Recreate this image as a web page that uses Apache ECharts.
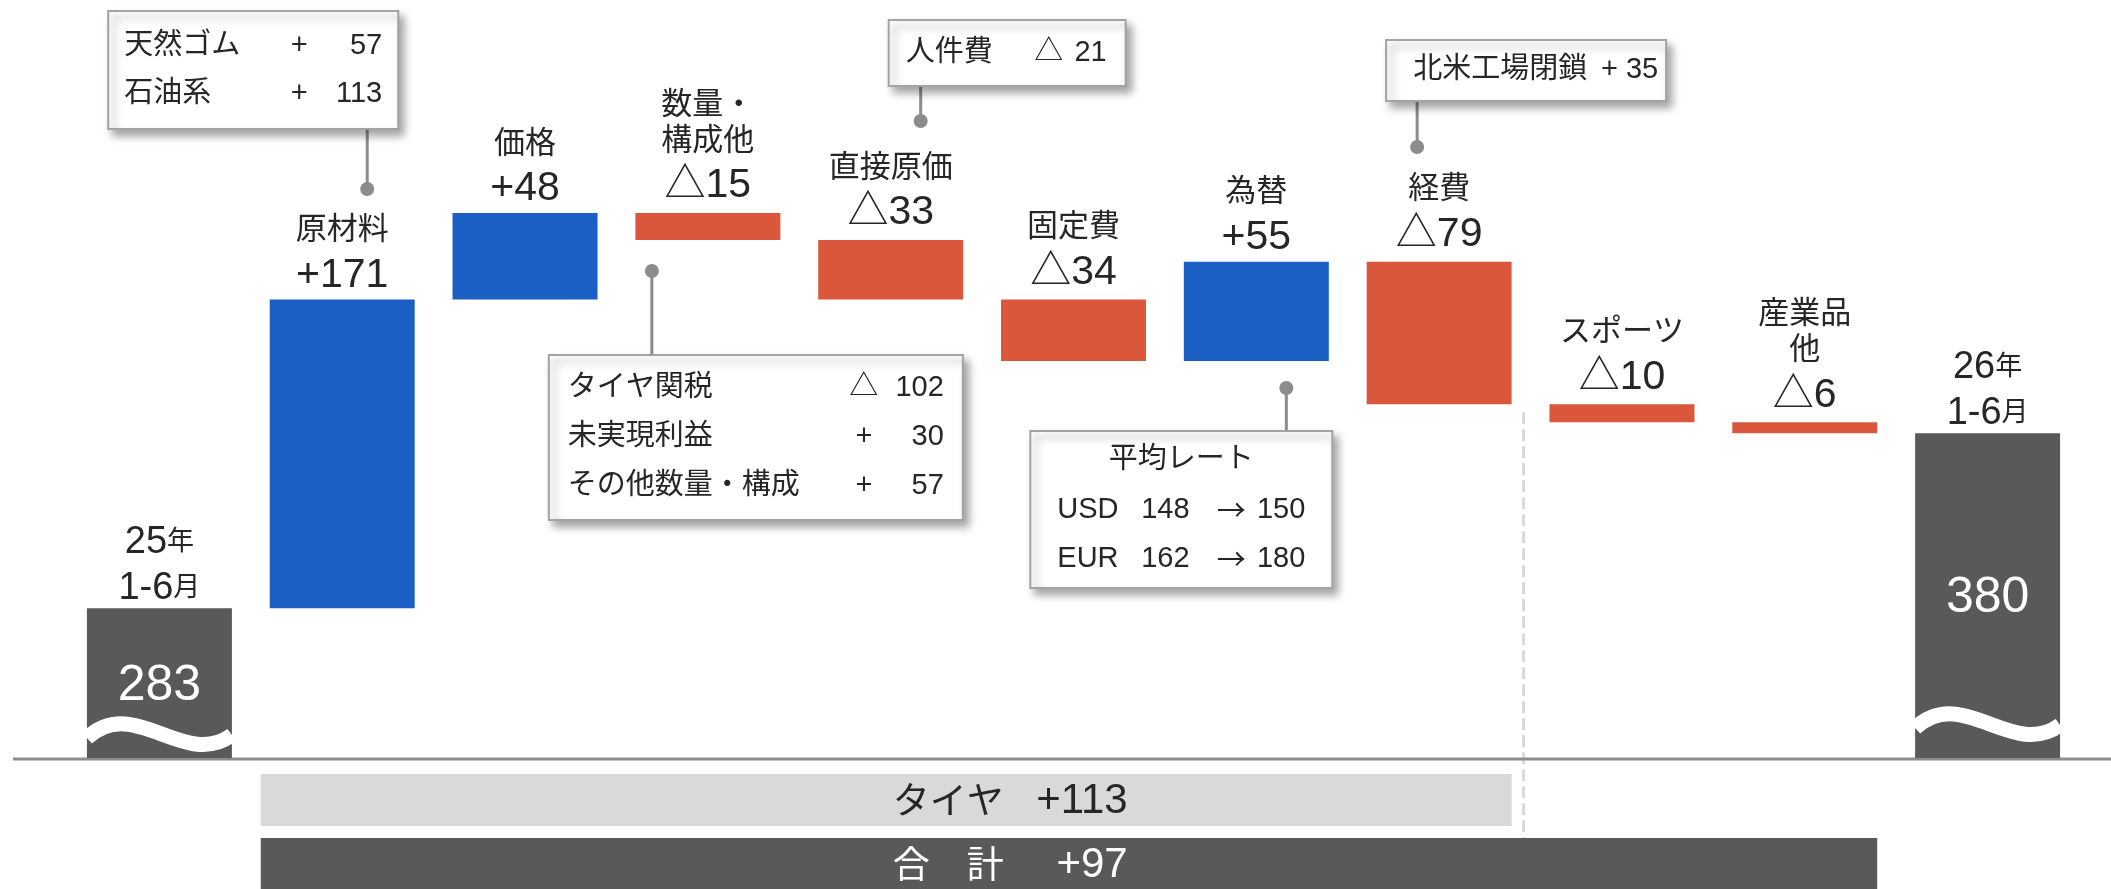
<!DOCTYPE html>
<html><head><meta charset="utf-8">
<script src="https://cdn.jsdelivr.net/npm/echarts@6/dist/echarts.min.js"></script>
<style>html,body{margin:0;padding:0;background:#fff}#c{width:2111px;height:889px}</style>
</head><body><div id="c"></div>
<script>
// ---------------- data ----------------
const categories = ['25年\n1-6月', '原材料', '価格', '数量・\n構成他', '直接原価', '固定費', '為替', '経費', 'スポーツ', '産業品\n他', '26年\n1-6月'];
const startValue = 283;
const deltas = [171, 48, -15, -33, -34, 55, -79, -10, -6];
const endValue = 380;
const axisMin = 200;
const axisMax = 620;
const tireLabel = 'タイヤ';
const totalLabel = '合　計';
const rawMaterialDetail = [['天然ゴム', '+', '57'], ['石油系', '+', '113']];
const volumeDetail = [['タイヤ関税', '△', '102'], ['未実現利益', '+', '30'], ['その他数量・構成', '+', '57']];
const directCostDetail = [['人件費', '△', '21']];
const fxTitle = '平均レート';
const fxDetail = [['USD', '148', '→', '150'], ['EUR', '162', '→', '180']];
const expenseDetail = [['北米工場閉鎖', '+ 35']];

// ---------------- derived ----------------
const FONT = "'Liberation Sans', Arial, 'Noto Sans CJK JP', sans-serif";
const CJK = "'Noto Sans CJK JP', sans-serif";
const TXT = '#262626';
const BLUE = '#1b5ec4';
const RED = '#da573b';
const DARK = '#595959';
const LIGHT = '#d9d9d9';
const GRAY = '#8c8c8c';
const BAR_RATIO = 0.793;

const barData = [];
const barKinds = [];
const barValues = [];
barData.push([0, axisMin, startValue]); barKinds.push('total'); barValues.push(startValue);
let run = startValue;
deltas.forEach((d, k) => {
  const next = run + d;
  barData.push([k + 1, Math.min(run, next), Math.max(run, next)]);
  barKinds.push(d >= 0 ? 'up' : 'down');
  barValues.push(d);
  run = next;
});
barData.push([categories.length - 1, axisMin, endValue]); barKinds.push('total'); barValues.push(endValue);

const tireSum = deltas.slice(0, 7).reduce((a, b) => a + b, 0);
const grandSum = endValue - startValue;
const fmt = d => d >= 0 ? '+' + d : '△' + (-d);

function nameRich(name) {
  return name.split('\n').map(s => '{n|' + s + '}').join('\n');
}
function totalRich(name) {
  return name.split('\n').map(line => {
    const parts = line.match(/[0-9\-]+|[^0-9\-]+/g) || [];
    return parts.map(p => /^[0-9\-]+$/.test(p) ? '{a|' + p + '}' : '{b|' + p + '}').join('');
  }).join('\n');
}

const labelRich = {
  n: { fontSize: 31, lineHeight: 36, fontFamily: FONT, fill: TXT },
  v: { fontSize: 41, lineHeight: 54, fontFamily: FONT, fill: TXT },
  a: { fontSize: 38, lineHeight: 46, fontFamily: FONT, fill: TXT },
  b: { fontSize: 27, lineHeight: 46, fontFamily: FONT, fill: TXT }
};

function renderBar(params, api) {
  const idx = params.dataIndex;
  const i = api.value(0), lo = api.value(1), hi = api.value(2);
  const pTop = api.coord([i, hi]);
  const pBot = api.coord([i, lo]);
  const bw = api.size([1, 0])[0] * BAR_RATIO;
  const cx = pTop[0];
  const kind = barKinds[idx];
  const color = kind === 'total' ? DARK : (kind === 'up' ? BLUE : RED);
  const children = [{
    type: 'rect',
    shape: { x: cx - bw / 2, y: pTop[1], width: bw, height: pBot[1] - pTop[1] },
    style: { fill: color }
  }];
  if (kind === 'total') {
    const lift = idx === 0 ? 0 : 10;
    const base = pBot[1];
    const left = cx - bw / 2, right = cx + bw / 2;
    children.push({
      type: 'bezierCurve',
      shape: {
        x1: left, y1: base - 20 - lift,
        cpx1: left + bw * 0.33, cpy1: base - 64 - lift,
        cpx2: left + bw * 0.67, cpy2: base + 12 - lift,
        x2: right, y2: base - 23 - lift
      },
      style: { stroke: '#fff', lineWidth: 15, fill: null, lineCap: 'butt' }
    });
    children.push({
      type: 'text',
      style: {
        x: cx, y: (pTop[1] + base) / 2 + 3, text: String(barValues[idx]),
        fontSize: 50, fontFamily: FONT, fill: '#fff', align: 'center', verticalAlign: 'middle'
      }
    });
    children.push({
      type: 'text',
      style: {
        x: cx, y: pTop[1] + 3, text: totalRich(categories[idx]), rich: labelRich,
        align: 'center', verticalAlign: 'bottom'
      }
    });
  } else {
    children.push({
      type: 'text',
      style: {
        x: cx, y: pTop[1] + (kind === 'up' ? 3 : 0),
        text: nameRich(categories[idx]) + '\n{v|' + fmt(barValues[idx]) + '}',
        rich: labelRich, align: 'center', verticalAlign: 'bottom'
      }
    });
  }
  return { type: 'group', children };
}

function renderDecor(params, api) {
  const base = api.coord([0, axisMin])[1];
  const sz = api.size([1, 0])[0];
  const bw = sz * BAR_RATIO;
  const cx = i => api.coord([i, axisMin])[0];
  const expBottom = api.coord([7, barData[7][1]])[1];
  const bandLeft = cx(1) - bw / 2 - 9;
  const textLeft = cx(4) + 2;
  const numRight = cx(4) + 237;
  const children = [];
  children.push({
    type: 'line',
    shape: { x1: cx(7) + sz * 0.462, y1: expBottom + 8, x2: cx(7) + sz * 0.462, y2: base + 80 },
    style: { stroke: LIGHT, lineWidth: 3, lineDash: [12, 5] }
  });
  children.push({
    type: 'line',
    shape: { x1: 13, y1: base + 1, x2: api.getWidth(), y2: base + 1 },
    style: { stroke: GRAY, lineWidth: 3 }
  });
  children.push({
    type: 'rect',
    shape: { x: bandLeft, y: base + 16, width: cx(7) + bw / 2 - bandLeft, height: 52 },
    style: { fill: LIGHT }
  });
  children.push({
    type: 'rect',
    shape: { x: bandLeft, y: base + 80, width: cx(9) + bw / 2 - bandLeft, height: 52 },
    style: { fill: DARK }
  });
  children.push({
    type: 'text',
    style: { x: textLeft, y: base + 42, text: tireLabel, fontSize: 37, fontFamily: CJK, fill: TXT, align: 'left', verticalAlign: 'middle' }
  });
  children.push({
    type: 'text',
    style: { x: numRight, y: base + 43, text: fmt(tireSum), fontSize: 42, fontFamily: FONT, fill: TXT, align: 'right', verticalAlign: 'middle' }
  });
  children.push({
    type: 'text',
    style: { x: textLeft, y: base + 106, text: totalLabel, fontSize: 37, fontFamily: CJK, fill: '#fff', align: 'left', verticalAlign: 'middle' }
  });
  children.push({
    type: 'text',
    style: { x: numRight, y: base + 107, text: fmt(grandSum), fontSize: 42, fontFamily: FONT, fill: '#fff', align: 'right', verticalAlign: 'middle' }
  });
  return { type: 'group', children };
}

// callout layouts: box = [dx from category centre, top y, width, height]
const calloutLayouts = [
  { cat: 1, dot: [25, 189], box: [-234, 11, 290, 118], join: 'bottom',
    items: [].concat(...rawMaterialDetail.map((r, k) => [[r[0], 16, 35 + 48 * k, 'left'], [r[1], 191, 35 + 48 * k, 'center'], [r[2], 274, 35 + 48 * k, 'right']])) },
  { cat: 3, dot: [-56, 271], box: [-159, 355, 414, 165], join: 'top',
    items: [].concat(...volumeDetail.map((r, k) => [[r[0], 19, 33 + 49 * k, 'left'], [r[1], 315, 33 + 49 * k, 'center'], [r[2], 395, 33 + 49 * k, 'right']])) },
  { cat: 4, dot: [30, 121], box: [-2, 20, 237, 66], join: 'bottom',
    items: [].concat(...directCostDetail.map((r, k) => [[r[0], 17, 33, 'left'], [r[1], 160, 33, 'center'], [r[2], 218, 33, 'right']])) },
  { cat: 6, dot: [30, 388], box: [-226, 431, 302, 157], join: 'top',
    items: [[fxTitle, 151, 29, 'center']].concat(...fxDetail.map((r, k) => [[r[0], 27, 79 + 49 * k, 'left'], [r[1], 135, 79 + 49 * k, 'center'], [r[2], 201, 79 + 49 * k, 'center', CJK], [r[3], 275, 79 + 49 * k, 'right']])) },
  { cat: 7, dot: [-22, 147], box: [-53, 40, 280, 61], join: 'bottom',
    items: [[expenseDetail[0][0], 27, 30, 'left'], [expenseDetail[0][1], 272, 30, 'right']] }
];

function renderCallout(params, api) {
  const L = calloutLayouts[params.dataIndex];
  const cx = api.coord([api.value(0), axisMin])[0];
  const dx = cx + L.dot[0], dy = L.dot[1];
  const bx = cx + L.box[0], by = L.box[1], bwid = L.box[2], bh = L.box[3];
  const joinY = L.join === 'bottom' ? by + bh : by;
  const children = [
    { type: 'line', shape: { x1: dx, y1: dy, x2: dx, y2: joinY }, style: { stroke: GRAY, lineWidth: 3 } },
    { type: 'circle', shape: { cx: dx, cy: dy, r: 7 }, style: { fill: GRAY } },
    { type: 'rect', shape: { x: bx, y: by, width: bwid, height: bh },
      style: { fill: '#fff', stroke: '#a3a3a3', lineWidth: 2, shadowColor: 'rgba(0,0,0,0.35)', shadowBlur: 8, shadowOffsetX: 5, shadowOffsetY: 6 } }
  ];
  L.items.forEach(it => {
    children.push({
      type: 'text',
      style: { x: bx + it[1], y: by + it[2], text: it[0], fontSize: 29, fontFamily: it[4] || FONT, fill: TXT, align: it[3], verticalAlign: 'middle' }
    });
  });
  return { type: 'group', children };
}

const chart = echarts.init(document.getElementById('c'), null, { renderer: 'canvas' });
chart.setOption({
  animation: false,
  backgroundColor: '#fff',
  grid: { left: 68, right: 32, top: 0, bottom: 131 },
  xAxis: { type: 'category', data: categories, show: false },
  yAxis: { type: 'value', min: axisMin, max: axisMax, show: false },
  series: [
    { type: 'custom', name: 'decor', renderItem: renderDecor, data: [[0, axisMin]], z: 1, silent: true },
    { type: 'custom', name: 'bars', renderItem: renderBar, data: barData, encode: { x: 0, y: [1, 2] }, z: 2 },
    { type: 'custom', name: 'callouts', renderItem: renderCallout, data: calloutLayouts.map(l => [l.cat, axisMin]), z: 3, silent: true }
  ]
});
</script></body></html>
